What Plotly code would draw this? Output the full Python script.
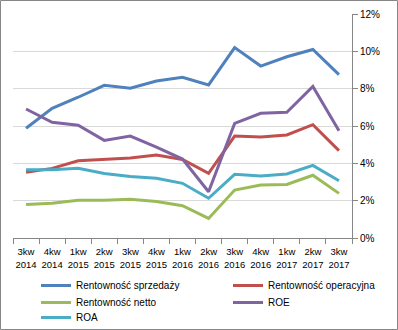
import plotly.graph_objects as go

categories = ["3kw<br>2014", "4kw<br>2014", "1kw<br>2015", "2kw<br>2015", "3kw<br>2015",
              "4kw<br>2015", "1kw<br>2016", "2kw<br>2016", "3kw<br>2016", "4kw<br>2016",
              "1kw<br>2017", "2kw<br>2017", "3kw<br>2017"]

rent_sprzedazy = [5.88, 6.95, 7.54, 8.18, 8.02, 8.41, 8.61, 8.20, 10.20, 9.21, 9.71, 10.10, 8.75]
rent_operacyjna = [3.52, 3.73, 4.14, 4.23, 4.28, 4.45, 4.21, 3.46, 5.46, 5.41, 5.52, 6.07, 4.68]
rent_netto = [1.80, 1.86, 2.02, 2.02, 2.07, 1.95, 1.73, 1.05, 2.57, 2.84, 2.87, 3.36, 2.39]
roe = [6.91, 6.20, 6.04, 5.23, 5.46, 4.87, 4.23, 2.48, 6.14, 6.68, 6.73, 8.12, 5.75]
roa = [3.66, 3.66, 3.73, 3.46, 3.29, 3.20, 2.93, 2.13, 3.41, 3.32, 3.43, 3.89, 3.07]

series = [
    ("Rentowność sprzedaży", rent_sprzedazy, "#4F81BD"),
    ("Rentowność operacyjna", rent_operacyjna, "#C0504D"),
    ("Rentowność netto", rent_netto, "#9BBB59"),
    ("ROE", roe, "#8064A2"),
    ("ROA", roa, "#4BACC6"),
]

y_ticks = [0, 2, 4, 6, 8, 10, 12]
y_tick_labels = ["0%", "2%", "4%", "6%", "8%", "10%", "12%"]

W, H = 398, 330
ml, mr, mt, mb = 13, 46, 14, 92
pw, ph = W - ml - mr, H - mt - mb

# legend slot positions (pixels from top-left of page): two columns, three rows
legend_slots = [(36, 271), (228, 271), (36, 288), (228, 288), (36, 303)]

fig = go.Figure()
legend_layouts = {}
for i, ((name, vals, color), (lx, ly)) in enumerate(zip(series, legend_slots)):
    lid = "legend" if i == 0 else f"legend{i + 1}"
    fig.add_trace(go.Scatter(x=categories, y=vals, name=name, mode="lines",
                             line=dict(color=color, width=3), hoverinfo="skip",
                             legend=lid))
    legend_layouts[lid] = dict(orientation="h", xref="container", yref="container",
                               x=lx / W, y=1 - ly / H, xanchor="left", yanchor="top",
                               font=dict(size=10), bgcolor="rgba(0,0,0,0)",
                               borderwidth=0)

fig.update_layout(
    width=W, height=H,
    margin=dict(l=ml, r=mr, t=mt, b=mb),
    paper_bgcolor="white", plot_bgcolor="white",
    font=dict(family="Liberation Sans, Arial, sans-serif", size=10, color="#000000"),
    showlegend=True,
    xaxis=dict(type="category", showgrid=False, showline=True, linecolor="#868686",
               linewidth=1, ticks="outside", tickson="boundaries", ticklen=5,
               tickcolor="#868686", tickfont=dict(size=9.5), range=[-0.5, 12.5],
               tickangle=0, automargin=False, ticklabelstandoff=5, fixedrange=True),
    yaxis=dict(side="right", range=[0, 12], tickvals=y_ticks, ticktext=y_tick_labels,
               showgrid=True, gridcolor="#D9D9D9", gridwidth=1, showline=True,
               linecolor="#868686", linewidth=1, ticks="outside", ticklen=5,
               tickcolor="#868686", tickfont=dict(size=10), zeroline=False,
               automargin=False, fixedrange=True),
    shapes=[dict(type="rect", xref="paper", yref="paper",
                 x0=(0.5 - ml) / pw, x1=(W - 0.5 - ml) / pw,
                 y0=(ph + mt - (H - 0.5)) / ph, y1=(ph + mt - 0.5) / ph,
                 line=dict(color="#868686", width=1), layer="below")],
    **legend_layouts,
)

fig.write_html("out.html")
